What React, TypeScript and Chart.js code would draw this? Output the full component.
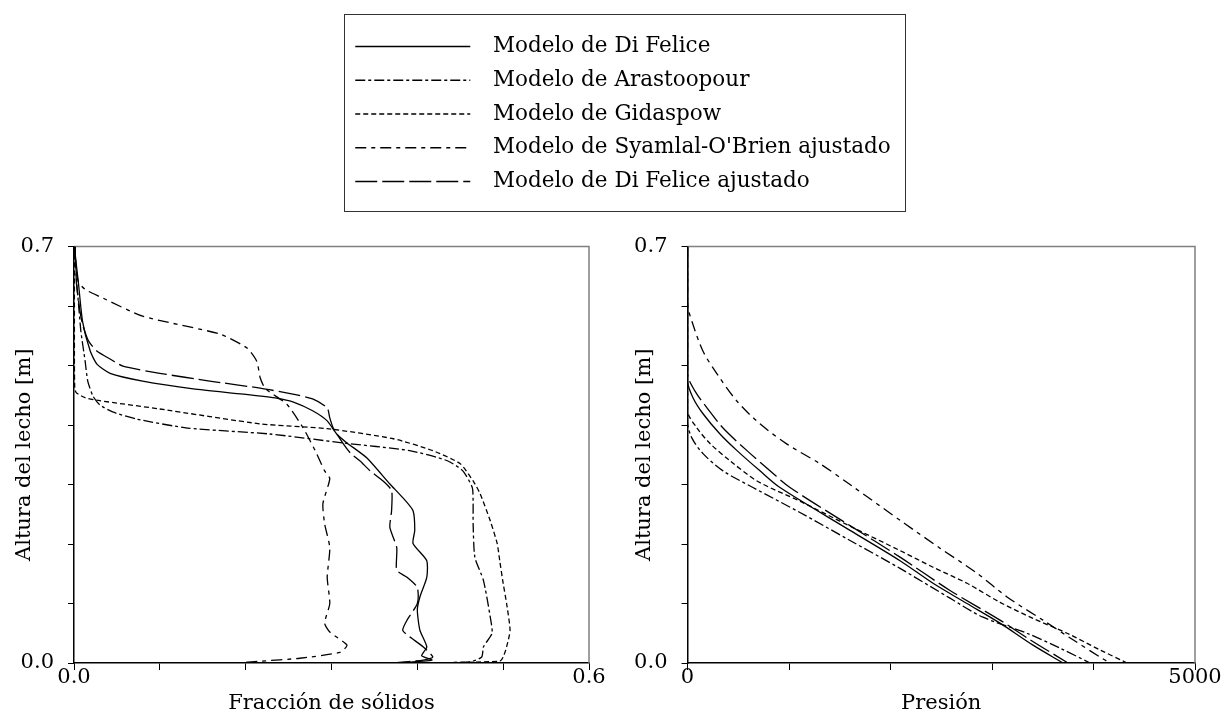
import React, { useEffect, useRef } from 'react';
import { Chart, registerables } from 'chart.js';

Chart.register(...registerables);

const FONT = 'DejaVu Serif';

// ---------- series ----------
const seriesLabels = [
  'Modelo de Di Felice',
  'Modelo de Arastoopour',
  'Modelo de Gidaspow',
  "Modelo de Syamlal-O'Brien ajustado",
  'Modelo de Di Felice ajustado',
];
const seriesDashes: number[][] = [[], [10, 3, 3, 3], [5, 3], [11, 5, 4, 5], [22, 5]];

// ---------- left chart: solids fraction (x) vs bed height (y) ----------
const fracDiFeliceX = [0.001, 0.001, 0.005, 0.010, 0.019, 0.027, 0.042, 0.080, 0.139, 0.197, 0.237, 0.255, 0.278, 0.295, 0.306, 0.318, 0.341, 0.368, 0.383, 0.395, 0.397, 0.395, 0.411, 0.411, 0.403, 0.400, 0.403, 0.411, 0.405, 0.417, 0.374];
const fracDiFeliceY = [0.700, 0.692, 0.641, 0.574, 0.524, 0.502, 0.487, 0.474, 0.461, 0.452, 0.445, 0.439, 0.424, 0.407, 0.385, 0.370, 0.345, 0.301, 0.278, 0.256, 0.223, 0.201, 0.172, 0.144, 0.111, 0.089, 0.055, 0.027, 0.012, 0.005, 0.000];

const fracArastoopourX = [0.001, 0.002, 0.003, 0.005, 0.008, 0.013, 0.016, 0.022, 0.030, 0.045, 0.073, 0.132, 0.228, 0.313, 0.391, 0.435, 0.453, 0.464, 0.465, 0.465, 0.467, 0.477, 0.485, 0.487, 0.477, 0.475, 0.461, 0.403];
const fracArastoopourY = [0.700, 0.675, 0.641, 0.608, 0.558, 0.507, 0.474, 0.449, 0.434, 0.422, 0.410, 0.395, 0.385, 0.370, 0.357, 0.340, 0.323, 0.295, 0.268, 0.234, 0.178, 0.139, 0.077, 0.050, 0.027, 0.010, 0.002, 0.000];

const fracGidaspowX = [0.0005, 0.0005, 0.001, 0.003, 0.013, 0.030, 0.100, 0.217, 0.295, 0.372, 0.418, 0.450, 0.465, 0.473, 0.485, 0.493, 0.496, 0.500, 0.504, 0.508, 0.504, 0.500, 0.496, 0.411];
const fracGidaspowY = [0.700, 0.500, 0.460, 0.454, 0.446, 0.441, 0.427, 0.402, 0.394, 0.377, 0.357, 0.335, 0.306, 0.285, 0.239, 0.201, 0.172, 0.134, 0.100, 0.055, 0.027, 0.010, 0.003, 0.000];

const fracSyamlalX = [0.001, 0.002, 0.005, 0.013, 0.030, 0.080, 0.170, 0.202, 0.213, 0.217, 0.223, 0.248, 0.267, 0.281, 0.292, 0.298, 0.290, 0.292, 0.298, 0.295, 0.298, 0.292, 0.298, 0.318, 0.310, 0.263, 0.217, 0.188];
const fracSyamlalY = [0.700, 0.672, 0.641, 0.628, 0.616, 0.583, 0.553, 0.529, 0.507, 0.479, 0.461, 0.435, 0.395, 0.357, 0.323, 0.310, 0.268, 0.234, 0.194, 0.144, 0.100, 0.067, 0.052, 0.030, 0.018, 0.008, 0.003, 0.000];

const fracDiFeliceAjX = [0.001, 0.002, 0.003, 0.007, 0.010, 0.017, 0.027, 0.042, 0.057, 0.100, 0.158, 0.217, 0.255, 0.278, 0.295, 0.298, 0.302, 0.313, 0.322, 0.333, 0.345, 0.360, 0.370, 0.370, 0.368, 0.376, 0.376, 0.388, 0.400, 0.400, 0.388, 0.383, 0.391, 0.407, 0.418, 0.407, 0.372];
const fracDiFeliceAjY = [0.700, 0.667, 0.636, 0.591, 0.569, 0.541, 0.524, 0.511, 0.499, 0.487, 0.474, 0.462, 0.452, 0.444, 0.429, 0.412, 0.395, 0.370, 0.353, 0.340, 0.323, 0.306, 0.290, 0.256, 0.228, 0.194, 0.156, 0.144, 0.127, 0.100, 0.072, 0.055, 0.044, 0.027, 0.010, 0.005, 0.000];

// ---------- right chart: pressure (x) vs bed height (y) ----------
const presDiFeliceX = [0, 0, 54, 153, 320, 488, 714, 911, 1601, 2094, 2419, 2754, 3079, 3404, 3700];
const presDiFeliceY = [0.700, 0.474, 0.446, 0.419, 0.385, 0.357, 0.323, 0.295, 0.223, 0.172, 0.134, 0.100, 0.067, 0.030, 0.000];

const presArastoopourX = [0, 0, 44, 153, 350, 645, 1108, 1601, 2094, 2586, 2911, 3345, 3670, 3966];
const presArastoopourY = [0.700, 0.405, 0.378, 0.352, 0.323, 0.295, 0.253, 0.206, 0.159, 0.109, 0.077, 0.050, 0.025, 0.000];

const presGidaspowX = [0, 0, 94, 222, 419, 685, 1108, 1601, 2094, 2419, 2754, 3079, 3404, 3739, 4064, 4330];
const presGidaspowY = [0.700, 0.424, 0.395, 0.369, 0.340, 0.306, 0.272, 0.230, 0.189, 0.161, 0.134, 0.102, 0.075, 0.050, 0.022, 0.000];

const presSyamlalX = [0, 0, 54, 153, 291, 488, 714, 980, 1305, 1601, 2143, 2488, 2852, 3148, 3502, 3798, 4064, 4162];
const presSyamlalY = [0.700, 0.603, 0.569, 0.524, 0.486, 0.440, 0.402, 0.368, 0.335, 0.300, 0.234, 0.193, 0.151, 0.111, 0.072, 0.039, 0.010, 0.000];

const presDiFeliceAjX = [0, 0, 74, 192, 350, 586, 813, 1010, 1601, 2094, 2586, 3079, 3375, 3749];
const presDiFeliceAjY = [0.700, 0.486, 0.457, 0.429, 0.395, 0.357, 0.323, 0.295, 0.231, 0.178, 0.122, 0.072, 0.039, 0.000];

// ---------- axes ----------
const heightMax = 0.7;
const heightStep = 0.1;
const fracMax = 0.6;
const fracStep = 0.1;
const presMax = 5000;
const presStep = 1000;

const fracXs = [fracDiFeliceX, fracArastoopourX, fracGidaspowX, fracSyamlalX, fracDiFeliceAjX];
const fracYs = [fracDiFeliceY, fracArastoopourY, fracGidaspowY, fracSyamlalY, fracDiFeliceAjY];
const presXs = [presDiFeliceX, presArastoopourX, presGidaspowX, presSyamlalX, presDiFeliceAjX];
const presYs = [presDiFeliceY, presArastoopourY, presGidaspowY, presSyamlalY, presDiFeliceAjY];

const toPoints = (xs: number[], ys: number[]) => xs.map((x, i) => ({ x, y: ys[i] }));

function makeDatasets(xsList: number[][] | null, ysList: number[][] | null, tension: number) {
  return seriesLabels.map((label, i) => ({
    label,
    data: xsList && ysList ? toPoints(xsList[i], ysList[i]) : [],
    borderColor: '#000',
    backgroundColor: '#000',
    borderWidth: 1.3,
    borderDash: seriesDashes[i],
    pointRadius: 0,
    pointHoverRadius: 0,
    pointStyle: 'line',
    tension,
    fill: false,
  }));
}

// legend sample: the line symbol spans LEGEND_SAMPLE_W px drawn left to right;
// draw the pattern over the first LEGEND_LINE_LEN px, then leave a gap.
const LEGEND_SAMPLE_W = 127;
const LEGEND_LINE_LEN = 115;
function legendDash(pattern: number[]): number[] {
  if (pattern.length === 0) return [LEGEND_LINE_LEN, 1000];
  const out: number[] = [];
  let total = 0;
  let k = 0;
  while (total < LEGEND_LINE_LEN - 0.01) {
    const seg = Math.min(pattern[k % pattern.length], LEGEND_LINE_LEN - total);
    out.push(seg);
    total += seg;
    k++;
  }
  if (out.length % 2 === 1) out.push(1000);
  else out.push(0, 1000);
  return out;
}

const framePlugin = {
  id: 'frame',
  beforeDatasetsDraw(chart: any) {
    const { ctx, chartArea } = chart;
    const { left, top, right, bottom } = chartArea;
    ctx.save();
    ctx.strokeStyle = '#808080';
    ctx.lineWidth = 1.5;
    ctx.beginPath();
    ctx.moveTo(left, top);
    ctx.lineTo(right, top);
    ctx.lineTo(right, bottom);
    ctx.stroke();
    ctx.restore();
  },
};

const endLabel = (digits: number) => (v: any, i: number, ticks: any[]) =>
  i === 0 || i === ticks.length - 1 ? Number(v).toFixed(digits) : '';

function mainOptions(xMax: number, xStep: number, xDigits: number, xTitle: string, yWidth: number, padRight: number) {
  return {
    responsive: false,
    animation: false as const,
    events: [] as any[],
    layout: { padding: { top: 0, right: padRight, left: 0, bottom: 0 } },
    plugins: { legend: { display: false }, tooltip: { enabled: false } },
    scales: {
      x: {
        type: 'linear' as const,
        min: 0,
        max: xMax,
        afterFit: (s: any) => { s.height = 57; },
        ticks: {
          stepSize: xStep,
          autoSkip: false,
          maxRotation: 0,
          color: '#000',
          font: { family: FONT, size: 21 },
          padding: -5,
          callback: endLabel(xDigits),
        },
        grid: { drawOnChartArea: false, drawTicks: true, tickLength: 7, color: '#000', lineWidth: 1 },
        border: { color: '#000', width: 1.5 },
        title: { display: true, text: xTitle, color: '#000', font: { family: FONT, size: 21 }, padding: { top: 0, bottom: 4 } },
      },
      y: {
        type: 'linear' as const,
        min: 0,
        max: heightMax,
        afterFit: (s: any) => { s.width = yWidth; },
        ticks: {
          stepSize: heightStep,
          autoSkip: false,
          color: '#000',
          font: { family: FONT, size: 21 },
          padding: 14,
          callback: endLabel(1),
        },
        grid: { drawOnChartArea: false, drawTicks: true, tickLength: 6, color: '#000', lineWidth: 1 },
        border: { color: '#000', width: 1.5 },
        title: { display: true, text: 'Altura del lecho [m]', color: '#000', font: { family: FONT, size: 21 }, padding: { top: 12, bottom: 0 } },
      },
    },
  };
}

function LineChart(props: { build: () => any; width: number; height: number; style: React.CSSProperties }) {
  const ref = useRef<HTMLCanvasElement | null>(null);
  useEffect(() => {
    if (!ref.current) return;
    const chart = new Chart(ref.current, props.build());
    return () => chart.destroy();
  }, []);
  return <canvas ref={ref} width={props.width} height={props.height} style={{ position: 'absolute', width: props.width, height: props.height, ...props.style }} />;
}

export default function App() {
  const buildLegend = () => ({
    type: 'line',
    data: { datasets: makeDatasets(null, null, 0) },
    options: {
      responsive: false,
      animation: false,
      events: [],
      layout: { padding: { top: 8.5, left: 0, right: 0, bottom: 0 } },
      scales: { x: { display: false }, y: { display: false } },
      plugins: {
        tooltip: { enabled: false },
        legend: {
          display: true,
          position: 'top',
          align: 'start',
          maxHeight: 400,
          labels: {
            usePointStyle: true,
            pointStyle: 'line',
            pointStyleWidth: LEGEND_SAMPLE_W,
            color: '#000',
            font: { family: FONT, size: 21.5 },
            padding: 12.25,
            generateLabels: (chart: any) => {
              const items = (Chart.defaults.plugins.legend.labels as any).generateLabels(chart);
              return items.map((it: any, i: number) => ({
                ...it,
                pointStyle: 'line',
                strokeStyle: '#000',
                fillStyle: '#000',
                lineWidth: 1.3,
                lineDash: legendDash(seriesDashes[i]),
                lineDashOffset: 0,
              }));
            },
          },
        },
      },
    },
  });

  const buildLeft = () => ({
    type: 'line',
    data: { datasets: makeDatasets(fracXs, fracYs, 0.2) },
    options: mainOptions(fracMax, fracStep, 1, 'Fracción de sólidos', 74, 31),
    plugins: [framePlugin],
  });

  const buildRight = () => ({
    type: 'line',
    data: { datasets: makeDatasets(presXs, presYs, 0.3) },
    options: mainOptions(presMax, presStep, 0, 'Presión', 67.5, 36),
    plugins: [framePlugin],
  });

  return (
    <div style={{ position: 'absolute', left: 0, top: 0, width: 1231, height: 720, background: '#fff', overflow: 'hidden' }}>
      <div style={{ position: 'absolute', left: 344, top: 14, width: 560, height: 196, border: '1px solid #333', overflow: 'hidden' }}>
        <LineChart build={buildLegend} width={562} height={196} style={{ left: -2, top: 0 }} />
      </div>
      <LineChart build={buildLeft} width={620} height={500} style={{ left: 0, top: 220 }} />
      <LineChart build={buildRight} width={611} height={500} style={{ left: 620, top: 220 }} />
    </div>
  );
}
